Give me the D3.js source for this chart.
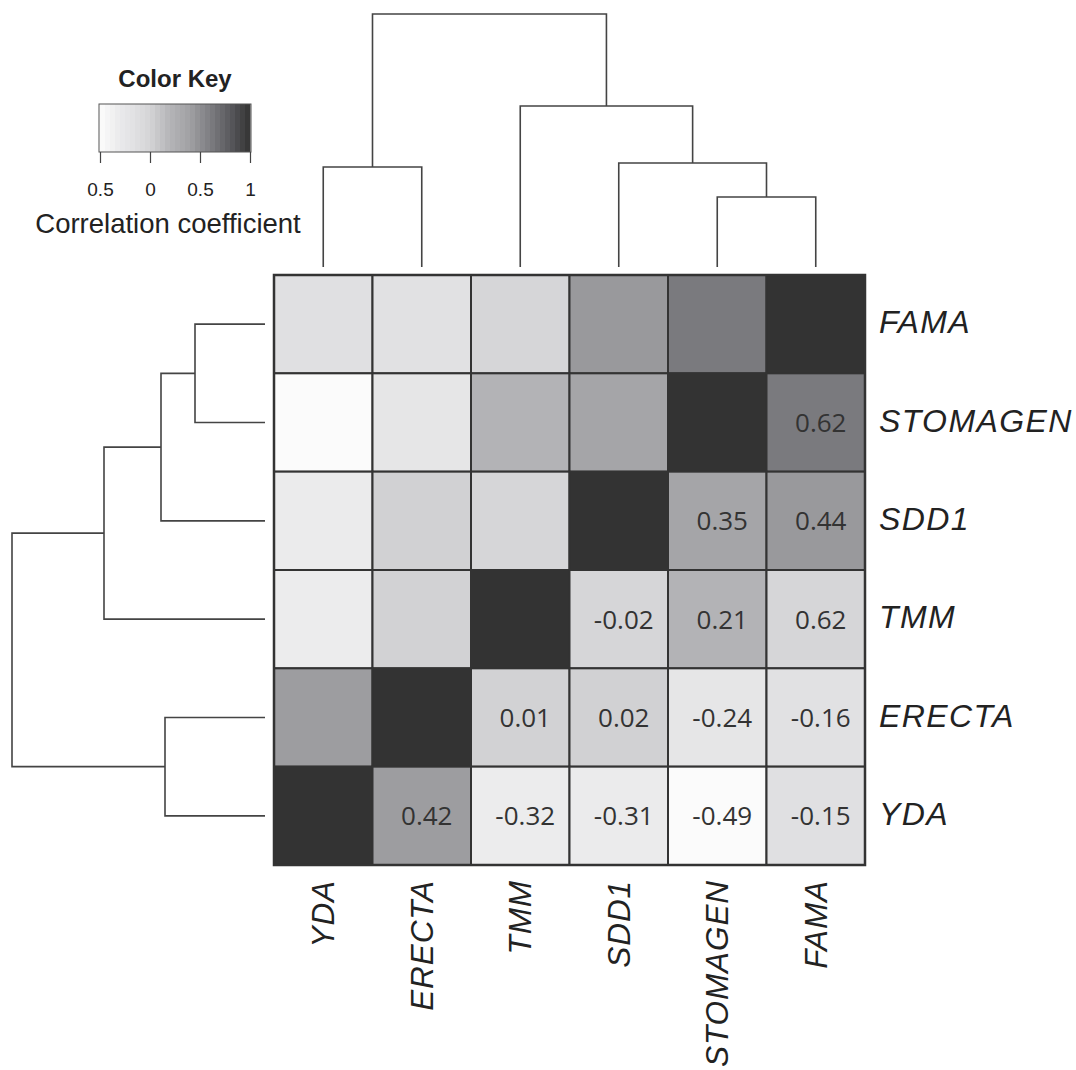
<!DOCTYPE html>
<html><head><meta charset="utf-8">
<script src="https://cdn.jsdelivr.net/npm/d3@7"></script>
<style>
html,body{margin:0;padding:0;background:#fff;}
svg{display:block;}
</style></head>
<body>
<svg id="chart" width="1076" height="1070"></svg>
<script>
// ---------- DATA ----------
const colGenes = ["YDA", "ERECTA", "TMM", "SDD1", "STOMAGEN", "FAMA"];      // left -> right
const rowGenes = ["FAMA", "STOMAGEN", "SDD1", "TMM", "ERECTA", "YDA"];      // top -> bottom
// pair (a, b): shading value read from cell colour, and printed text
const pairA     = ["YDA","YDA","YDA","YDA","YDA","ERECTA","ERECTA","ERECTA","ERECTA","TMM","TMM","TMM","SDD1","SDD1","STOMAGEN"];
const pairB     = ["ERECTA","TMM","SDD1","STOMAGEN","FAMA","TMM","SDD1","STOMAGEN","FAMA","SDD1","STOMAGEN","FAMA","STOMAGEN","FAMA","FAMA"];
const pairShade = [0.42,-0.32,-0.31,-0.49,-0.15,0.01,0.02,-0.24,-0.16,-0.02,0.21,-0.03,0.35,0.44,0.62];
const pairText  = ["0.42","-0.32","-0.31","-0.49","-0.15","0.01","0.02","-0.24","-0.16","-0.02","0.21","0.62","0.35","0.44","0.62"];
// dendrogram (merge heights)
const dendro = {h: 2.53, children: [
  {h: 1.00, children: [{name: "YDA"}, {name: "ERECTA"}]},
  {h: 1.61, children: [{name: "TMM"},
    {h: 1.04, children: [{name: "SDD1"},
      {h: 0.70, children: [{name: "STOMAGEN"}, {name: "FAMA"}]}]}]}
]};
const keyTickValues = [-0.5, 0, 0.5, 1];
const keyTickLabels = ["0.5", "0", "0.5", "1"];

// ---------- SCALES ----------
const svg = d3.select("#chart");
const gx = d3.scaleBand().domain(colGenes).range([274, 865]);
const gy = d3.scaleBand().domain(rowGenes).range([275, 865]);
const shade = d3.scaleLinear()
  .domain([-0.5, -0.3, -0.15, 0, 0.2, 0.4, 0.62, 0.8, 1])
  .range(["#fcfcfc", "#eaeaeb", "#e0e0e2", "#d4d4d6", "#b4b4b7", "#a0a0a3", "#7a7a7e", "#5a5a5e", "#333333"])
  .clamp(true);

// build full cell list
const cells = [];
rowGenes.forEach(r => colGenes.forEach(c => {
  let v = 1, txt = null;
  if (r !== c) {
    const i = pairA.findIndex((a, k) => (a === r && pairB[k] === c) || (a === c && pairB[k] === r));
    v = pairShade[i];
    if (pairA[i] === r) txt = pairText[i];
  }
  cells.push({r, c, v, txt});
}));

// ---------- HEATMAP ----------
const hm = svg.append("g");
hm.selectAll("rect.cell").data(cells).join("rect")
  .attr("class", "cell")
  .attr("x", d => gx(d.c)).attr("y", d => gy(d.r))
  .attr("width", gx.bandwidth()).attr("height", gy.bandwidth())
  .attr("fill", d => shade(d.v))
  .attr("stroke", "#333").attr("stroke-width", 2);
hm.append("rect")
  .attr("x", gx.range()[0]).attr("y", gy.range()[0])
  .attr("width", gx.range()[1] - gx.range()[0]).attr("height", gy.range()[1] - gy.range()[0])
  .attr("fill", "none").attr("stroke", "#333").attr("stroke-width", 2.5);

hm.selectAll("text.val").data(cells.filter(d => d.txt)).join("text")
  .attr("class", "val")
  .attr("x", d => gx(d.c) + gx.bandwidth() / 2 + 5)
  .attr("y", d => gy(d.r) + gy.bandwidth() / 2)
  .attr("dy", "0.36em")
  .attr("text-anchor", "middle")
  .attr("font-family", "'Open Sans', sans-serif")
  .attr("font-size", 26)
  .attr("fill", "#333")
  .text(d => d.txt);

// row labels
svg.selectAll("text.rl").data(rowGenes).join("text")
  .attr("class", "rl")
  .attr("x", 879)
  .attr("y", d => gy(d) + gy.bandwidth() / 2 + 9)
  .attr("font-family", "'Liberation Sans', Arial, sans-serif")
  .attr("font-style", "italic")
  .attr("font-size", 32)
  .attr("letter-spacing", 1.4)
  .attr("fill", "#222")
  .text(d => d);

// column labels
svg.selectAll("text.cl").data(colGenes).join("text")
  .attr("class", "cl")
  .attr("transform", d => `translate(${gx(d) + gx.bandwidth() / 2 + 11},880) rotate(-90)`)
  .attr("text-anchor", "end")
  .attr("font-family", "'Liberation Sans', Arial, sans-serif")
  .attr("font-style", "italic")
  .attr("font-size", 31.5)
  .attr("letter-spacing", 0.9)
  .attr("fill", "#222")
  .text(d => d);

// ---------- DENDROGRAMS ----------
function drawDendro(posScale, hScale, vertical) {
  const root = d3.hierarchy(dendro);
  root.eachAfter(n => {
    if (!n.children) { n.pos = posScale(n.data.name) + posScale.bandwidth() / 2; n.hh = 0; }
    else { n.pos = d3.mean(n.children, c => c.pos); n.hh = n.data.h; }
  });
  const segs = [];
  root.each(n => {
    if (!n.children) return;
    const [a, b] = n.children;
    segs.push([[a.pos, hScale(a.hh)], [a.pos, hScale(n.hh)], [b.pos, hScale(n.hh)], [b.pos, hScale(b.hh)]]);
  });
  const line = d3.line().x(p => vertical ? p[0] : p[1]).y(p => vertical ? p[1] : p[0]);
  svg.append("g").selectAll("path").data(segs).join("path")
    .attr("d", line)
    .attr("fill", "none").attr("stroke", "#444").attr("stroke-width", 1.6);
}
drawDendro(gx, d3.scaleLinear().domain([0, 2.53]).range([267, 14]), true);
drawDendro(gy, d3.scaleLinear().domain([0, 2.53]).range([265, 12]), false);

// ---------- COLOR KEY ----------
const kx = d3.scaleLinear().domain([-0.5, 1]).range([100, 250]);
const key = svg.append("g");
const steps = d3.range(30).map(i => -0.5 + i * 1.5 / 30);
key.selectAll("rect.k").data(steps).join("rect")
  .attr("class", "k")
  .attr("x", d => kx(d)).attr("y", 104)
  .attr("width", kx(-0.5 + 1.5 / 30) - kx(-0.5) + 0.5).attr("height", 48)
  .attr("fill", d => shade(d + 0.025));
key.append("rect").attr("x", 99).attr("y", 104).attr("width", 152).attr("height", 48)
  .attr("fill", "none").attr("stroke", "#555").attr("stroke-width", 1);
const kAxis = key.append("g").attr("transform", "translate(0,152)")
  .call(d3.axisBottom(kx).tickValues(keyTickValues).tickSize(11).tickFormat((d, i) => keyTickLabels[i]));
kAxis.select(".domain").remove();
kAxis.selectAll(".tick line").attr("stroke", "#444").attr("stroke-width", 1.2);
kAxis.selectAll(".tick text").attr("font-family", "'Liberation Sans', Arial, sans-serif")
  .attr("font-size", 19).attr("fill", "#222").attr("y", 44).attr("dy", 0);
key.append("text").attr("x", 175).attr("y", 87).attr("text-anchor", "middle")
  .attr("font-family", "'Liberation Sans', Arial, sans-serif").attr("font-weight", "bold")
  .attr("font-size", 24).attr("fill", "#222").text("Color Key");
key.append("text").attr("x", 168).attr("y", 233).attr("text-anchor", "middle")
  .attr("font-family", "'Liberation Sans', Arial, sans-serif")
  .attr("font-size", 27.5).attr("fill", "#222").text("Correlation coefficient");
</script>
</body></html>
